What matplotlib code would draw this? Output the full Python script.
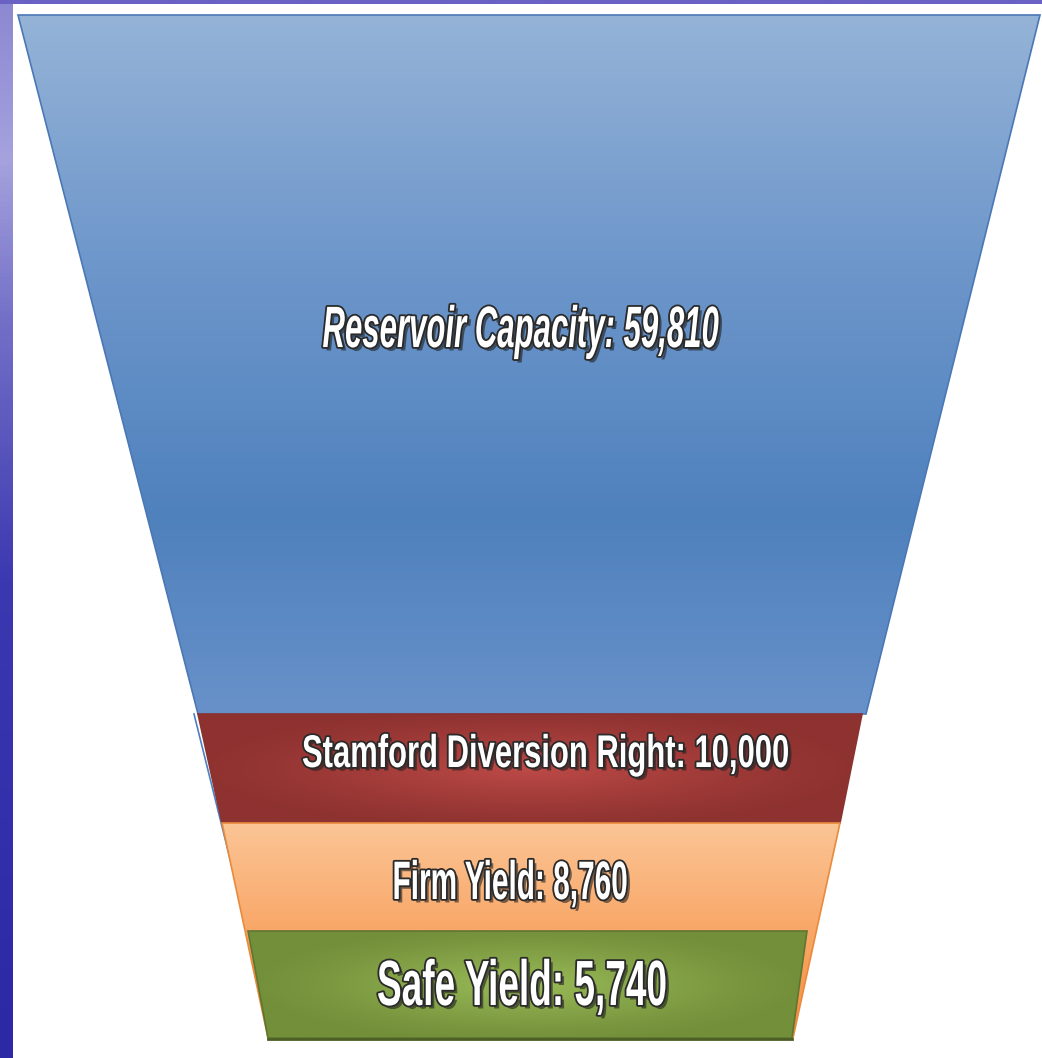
import numpy as np
import matplotlib
matplotlib.use("Agg")
import matplotlib.pyplot as plt
from matplotlib.patches import Polygon
import matplotlib.patheffects as pe
from matplotlib.transforms import Affine2D
from matplotlib.colors import to_rgb

# data
labels = ["Reservoir Capacity", "Stamford Diversion Right", "Firm Yield", "Safe Yield"]
values = [59810, 10000, 8760, 5740]

# layout of the funnel (pixel coords, y grows downward)
band_top = [15, 714, 823, 931]
band_bot = [714, 823, 1038, 1038]
left_top = [18, 198, 222, 248]
left_bot = [198, 222, 268, 268]
right_top = [1040, 862, 840, 807]
right_bot = [866, 840, 793, 792]
label_x = [521, 546, 510, 522]
label_base = [347, 767, 899, 1005]
label_size = [42, 33, 39, 46]
label_width = [397, 488, 235, 290]   # target width in px of the narrow lettering
label_style = ["italic", "normal", "normal", "normal"]

plt.rcParams['font.family'] = ['Liberation Sans', 'DejaVu Sans']

W, H = 1042, 1058
fig = plt.figure(figsize=(W / 100, H / 100), dpi=100)
ax = fig.add_axes([0, 0, 1, 1])
ax.set_xlim(0, W)
ax.set_ylim(H, 0)
ax.axis('off')


class Squeeze(pe.AbstractPathEffect):
    """narrow the glyphs horizontally around x0 (display coords)"""
    def __init__(self, inner, sx, x0):
        super().__init__()
        self.inner = inner
        self.sx = sx
        self.x0 = x0

    def draw_path(self, renderer, gc, tpath, affine, rgbFace=None):
        sq = Affine2D().translate(-self.x0, 0).scale(self.sx, 1).translate(self.x0, 0)
        self.inner.draw_path(renderer, gc, tpath, affine + sq, rgbFace)


def vgrad(stops, n=256):
    t = np.linspace(0, 1, n)
    pos = [s[0] for s in stops]
    cols = np.array([to_rgb(s[1]) for s in stops])
    img = np.stack([np.interp(t, pos, cols[:, k]) for k in range(3)], axis=1)
    return img[:, None, :].repeat(2, axis=1)


def center_glow(edge, center, n=128, m=256):
    e = np.array(to_rgb(edge))
    c = np.array(to_rgb(center))
    yy, xx = np.mgrid[-1:1:n * 1j, -1:1:m * 1j]
    d = np.clip(np.sqrt(xx ** 2 + (yy / 1.1) ** 2), 0, 1)
    w = (1 - d) ** 1.2
    return e[None, None, :] * (1 - w[..., None]) + c[None, None, :] * w[..., None]


# background strips
ax.imshow(vgrad([(0, '#8c88d2'), (0.15, '#a5a2de'), (0.3, '#7470c8'), (0.55, '#3c38b0'), (1, '#2c28a6')]),
          extent=(0, 13, H, 0), aspect='auto', zorder=0)
ax.imshow(vgrad([(0, '#6a62c4'), (1, '#6a62c4')]), extent=(0, W, 4, 0), aspect='auto', zorder=0)

fills = [
    vgrad([(0, '#95b3d7'), (0.35, '#6e97cb'), (0.72, '#4f81bd'), (1, '#6891c9')]),
    center_glow('#8e3230', '#bd4a47'),
    vgrad([(0, '#fbc596'), (0.45, '#f9aa6c'), (1, '#f68f3e')]),
    center_glow('#738f3a', '#9abb58'),
]
edges = ['#4a78b6', '#8a3230', '#e98a3c', '#5e7630']

for i in range(len(values)):
    pts = [(left_top[i], band_top[i]), (right_top[i], band_top[i]),
           (right_bot[i], band_bot[i]), (left_bot[i], band_bot[i])]
    poly = Polygon(pts, closed=True, facecolor='none', edgecolor=edges[i], lw=1.2, zorder=2 + i)
    ax.add_patch(poly)
    im = ax.imshow(fills[i], extent=(min(left_top[i], left_bot[i]), max(right_top[i], right_bot[i]),
                                     band_bot[i], band_top[i]),
                   aspect='auto', zorder=1.5 + i, interpolation='bilinear')
    im.set_clip_path(poly)

# thin funnel outline continuing down the left side
ax.plot([194, 248], [714, 931], color='#4f7fbd', lw=1.2, zorder=2.5)
# shadow under the bottom band
ax.plot([268, 792], [1039, 1039], color='#4b5e24', lw=2, zorder=6)

texts = []
for i in range(len(values)):
    txt = f"{labels[i]}: {values[i]:,}"
    x0 = ax.transData.transform((label_x[i], label_base[i]))[0]
    effects = [Squeeze(e, 1.0, x0) for e in
               [pe.SimplePatchShadow(offset=(2.5, -2.5), shadow_rgbFace='#202020', alpha=0.6),
                pe.Stroke(linewidth=2.6, foreground='#2a2a2a'), pe.Normal()]]
    t = ax.text(label_x[i], label_base[i], txt, ha='center', va='baseline',
                fontsize=label_size[i], color='white', fontweight='bold',
                fontstyle=label_style[i], zorder=10, path_effects=effects)
    texts.append((t, effects))

# fit each label to the narrow width seen in the original
fig.canvas.draw()
r = fig.canvas.get_renderer()
for i, (t, effects) in enumerate(texts):
    natural = t.get_window_extent(r).width
    for e in effects:
        e.sx = label_width[i] / natural

fig.savefig('out.png', dpi=100, facecolor='white')
